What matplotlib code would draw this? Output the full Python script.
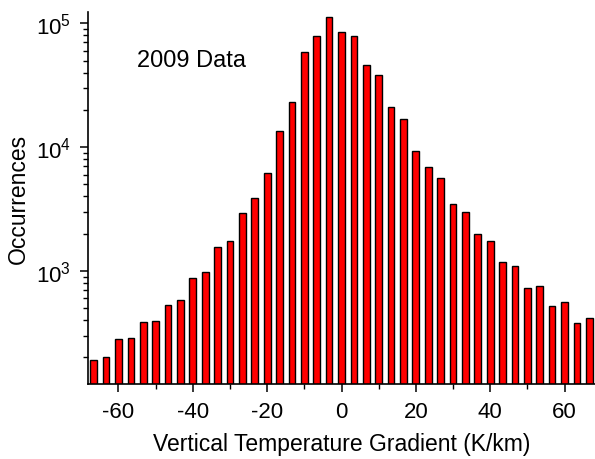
import numpy as np
import matplotlib
matplotlib.use("Agg")
import matplotlib.pyplot as plt
from matplotlib.ticker import LogLocator, MultipleLocator

plt.rcParams['font.family'] = ['Liberation Sans', 'DejaVu Sans']
plt.rcParams['mathtext.fontset'] = 'custom'
plt.rcParams['mathtext.rm'] = 'Liberation Sans'

# Bin centres (K/km): multiples of 10/3 from -20 to 20 bins
bin_index = list(range(-20, 21))
gradient = [k * 10.0 / 3.0 for k in bin_index]
occurrences = [188, 202, 280, 288, 385, 395, 532, 576, 869, 971,
               1545, 1746, 2960, 3880, 6170, 13390, 23070, 58350, 78500, 112700,
               85300, 78500, 45800, 38400, 21000, 16720, 9290, 6900, 5620, 3470,
               2990, 1987, 1758, 1182, 1097, 725, 753, 519, 562, 381, 416]
xticks = [-60, -40, -20, 0, 20, 40, 60]

fig = plt.figure(figsize=(5.95, 4.6), dpi=100)
ax = fig.add_axes([88/595, 1 - 385/460, 1 - 88/595, (385 - 13)/460])

ax.bar(gradient, occurrences, width=1.8, color='#ff0000', edgecolor='black',
       linewidth=1.0, bottom=1)
ax.set_yscale('log')
ax.set_xlim(-68.2, 68.2)
ax.set_ylim(122, 123300)

ax.set_xticks(xticks)
ax.set_xticklabels([str(t) for t in xticks])
ax.xaxis.set_minor_locator(MultipleLocator(10))
ax.yaxis.set_major_locator(LogLocator(base=10, numticks=10))
ax.yaxis.set_minor_locator(LogLocator(base=10, subs=np.arange(2, 10), numticks=20))

for s in ['top', 'right']:
    ax.spines[s].set_visible(False)
for s in ['left', 'bottom']:
    ax.spines[s].set_linewidth(1.2)

ax.tick_params(which='major', direction='out', length=6, width=1.1, labelsize=16, pad=6)
ax.tick_params(which='minor', direction='out', length=3.5, width=1.0)

ax.set_xlabel('Vertical Temperature Gradient (K/km)', fontsize=16.5)
ax.set_ylabel('Occurrences', fontsize=16.5)
ax.xaxis.set_label_coords(0.5, -0.128)
ax.yaxis.set_label_coords(-0.115, 0.5)

ax.text(0.097, 0.871, '2009 Data', transform=ax.transAxes, fontsize=17,
        va='center', ha='left')

fig.savefig('out.png', dpi=100)
